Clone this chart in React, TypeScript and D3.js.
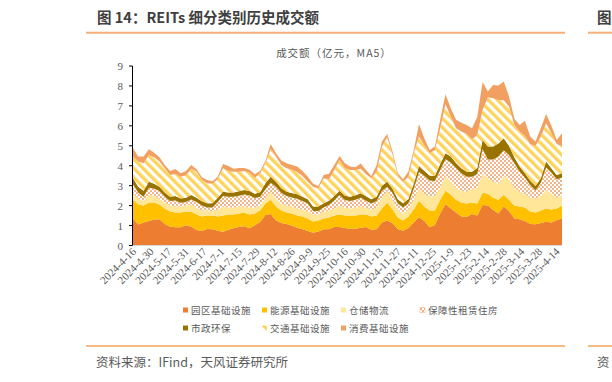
import React from 'react';
import * as d3 from 'd3';

// sample every 3 trading days, 82 samples (day index = k*3), trading days 0..243
const SAMPLE_STEP = 3;
const TOTAL_DAYS = 243;

const yuanqu = [1.36,1.05,1.15,1.23,1.30,1.31,1.08,0.94,0.91,0.91,
1.01,0.94,0.78,0.73,0.83,0.81,0.74,0.69,0.79,0.86,
0.93,0.96,0.86,1.01,1.18,1.53,1.58,1.25,1.13,1.08,
0.99,0.89,0.81,0.73,0.64,0.70,0.81,0.81,0.93,0.93,
0.88,0.84,0.84,0.89,0.93,0.79,0.81,1.15,1.25,1.11,
0.83,0.74,0.88,1.15,1.43,1.23,0.91,1.03,1.61,2.08,
1.86,1.66,1.45,1.43,1.58,1.51,2.03,2.00,1.78,1.61,
1.95,1.73,1.36,1.31,1.23,1.08,1.06,1.13,1.19,1.15,
1.28,1.36];

const nengyuan = [0.94,1.00,0.85,0.92,0.85,0.74,0.77,0.76,0.74,0.74,
0.69,0.76,0.77,0.72,0.67,0.69,0.71,0.81,0.76,0.69,
0.67,0.69,0.69,0.59,0.57,0.57,0.72,0.70,0.62,0.57,
0.61,0.61,0.64,0.62,0.56,0.55,0.54,0.59,0.57,0.62,
0.62,0.66,0.66,0.66,0.62,0.66,0.69,0.70,0.90,0.69,
0.57,0.51,0.57,0.65,0.82,0.72,0.84,0.72,0.69,0.67,
0.69,0.64,0.70,0.67,0.57,0.59,0.62,0.60,0.62,0.69,
0.60,0.57,0.64,0.64,0.67,0.62,0.59,0.62,0.66,0.65,
0.57,0.64];

const cangchu = [0.35,0.30,0.25,0.40,0.35,0.30,0.30,0.30,0.30,0.30,
0.30,0.35,0.35,0.30,0.25,0.22,0.35,0.45,0.35,0.35,
0.35,0.30,0.35,0.30,0.25,0.30,0.40,0.40,0.35,0.35,
0.35,0.35,0.35,0.35,0.35,0.30,0.35,0.35,0.35,0.45,
0.40,0.35,0.40,0.40,0.35,0.35,0.40,0.55,0.60,0.50,
0.40,0.35,0.35,0.50,0.65,0.65,0.70,0.75,0.60,0.75,
0.65,0.60,0.60,0.60,0.70,0.80,0.95,0.80,0.80,0.80,
0.95,1.00,0.90,0.75,0.70,0.70,0.70,0.75,0.95,0.80,
0.55,0.50];

const baozhang = [0.42,0.30,0.20,0.35,0.34,0.38,0.29,0.23,0.31,0.19,
0.18,0.26,0.28,0.25,0.15,0.18,0.38,0.53,0.54,0.54,
0.55,0.61,0.61,0.48,0.45,0.42,0.45,0.60,0.55,0.48,
0.46,0.50,0.43,0.40,0.18,0.18,0.20,0.28,0.41,0.53,
0.38,0.38,0.40,0.45,0.35,0.30,0.33,0.35,0.20,0.33,
0.30,0.30,0.31,0.54,0.79,0.90,0.81,0.73,0.89,0.82,
0.96,0.99,0.87,0.75,0.60,0.69,1.24,0.91,1.11,1.36,
1.28,1.24,1.22,1.01,0.80,0.63,0.41,0.65,1.11,1.05,
0.92,0.90];

const shizheng = [0.30,0.30,0.30,0.30,0.25,0.22,0.22,0.22,0.22,0.22,
0.22,0.22,0.22,0.22,0.22,0.22,0.22,0.22,0.22,0.22,
0.22,0.22,0.22,0.22,0.22,0.30,0.30,0.25,0.22,0.22,
0.22,0.22,0.22,0.22,0.22,0.22,0.22,0.22,0.22,0.22,
0.22,0.22,0.22,0.22,0.22,0.22,0.22,0.25,0.25,0.22,
0.22,0.22,0.22,0.25,0.30,0.25,0.25,0.25,0.30,0.30,
0.30,0.25,0.25,0.25,0.25,0.30,0.45,0.65,0.65,0.65,
0.60,0.45,0.30,0.25,0.22,0.22,0.22,0.22,0.30,0.22,
0.22,0.22];

const jiaotong = [1.09,1.26,1.37,1.34,1.33,1.26,1.21,1.09,1.11,1.09,
1.12,1.32,1.30,1.08,1.00,0.97,0.93,1.17,1.08,1.04,
0.98,0.96,0.92,0.80,0.95,1.00,1.39,1.26,1.17,1.17,
1.17,1.12,1.04,0.88,1.00,0.92,1.25,1.07,1.31,1.54,
1.37,1.34,1.27,1.23,1.10,1.05,1.25,1.96,2.23,1.70,
1.18,1.08,1.12,1.54,1.47,1.29,1.12,1.31,1.79,2.48,
2.00,1.74,1.84,1.89,1.63,1.65,1.51,2.47,2.42,2.19,
1.90,1.98,1.63,1.75,1.87,1.83,2.01,2.09,1.92,1.76,
1.55,1.37];

const xiaofei = [0.41,0.25,0.34,0.28,0.23,0.21,0.17,0.20,0.25,0.17,
0.22,0.19,0.12,0.12,0.17,0.13,0.12,0.22,0.25,0.15,
0.19,0.15,0.15,0.17,0.12,0.12,0.25,0.17,0.22,0.25,
0.24,0.27,0.25,0.25,0.14,0.11,0.17,0.28,0.25,0.20,
0.25,0.17,0.13,0.26,0.22,0.12,0.34,0.25,0.16,0.16,
0.12,0.12,0.26,0.15,0.63,0.34,0.16,0.17,0.42,0.48,
0.42,0.42,0.45,0.45,0.55,0.90,1.40,0.29,0.67,0.72,
0.94,0.50,0.31,0.33,0.76,0.38,0.22,0.42,0.46,0.37,
0.20,0.64];

const xTickLabels = ['2024-4-16','2024-4-30','2024-5-17','2024-5-31','2024-6-17','2024-7-1','2024-7-15','2024-7-29','2024-8-12','2024-8-26','2024-9-9','2024-9-25','2024-10-16','2024-10-30','2024-11-13','2024-11-27','2024-12-11','2024-12-25','2025-1-9','2025-1-23','2025-2-14','2025-2-28','2025-3-14','2025-3-28','2025-4-14'];
const X_TICK_STEP = 10; // trading days between labels
const yTicks = [0,1,2,3,4,5,6,7,8,9];

const seriesNames = ['园区基础设施','能源基础设施','仓储物流','保障性租赁住房','市政环保','交通基础设施','消费基础设施'];
const seriesValues = [yuanqu, nengyuan, cangchu, baozhang, shizheng, jiaotong, xiaofei];
const seriesFills = ['#ED7D31','#FFC000','#FFE699','url(#dots)','#997300','url(#stripes)','#F2A061'];
const legendRows = [[0,1,2,3],[4,5,6]];

const CJK = '"Noto Sans CJK SC", sans-serif';
const SERIF = '"Liberation Serif", "DejaVu Serif", serif';

export default function App() {
  const W = 612, H = 382;
  const x0 = 133, x1 = 562, yBase = 245.5, yTop = 66;
  const x = d3.scaleLinear().domain([0, TOTAL_DAYS]).range([x0, x1]);
  const y = d3.scaleLinear().domain([0, 9]).range([yBase, yTop]);

  const n = yuanqu.length;
  const rows = d3.range(n).map(i => {
    const r: any = { day: Math.min(i * SAMPLE_STEP, TOTAL_DAYS) };
    seriesNames.forEach((s, j) => { r[s] = seriesValues[j][i]; });
    return r;
  });
  const stack = d3.stack<any>().keys(seriesNames)(rows);
  const area = d3.area<any>()
    .x(d => x(d.data.day))
    .y0(d => y(d[0]))
    .y1(d => y(d[1]))
    .curve(d3.curveLinear);

  const legendX = [183, 262, 341, 420];
  const legendY = [310, 328];

  return (
    <svg width={W} height={H} style={{ position: 'absolute', left: 0, top: 0, background: '#fff' }}>
      <defs>
        <pattern id="dots" width="4" height="4" patternUnits="userSpaceOnUse">
          <rect width="4" height="4" fill="#fff" />
          <circle cx="1" cy="1" r="0.95" fill="#EE9458" />
          <circle cx="3" cy="3" r="0.95" fill="#EE9458" />
        </pattern>
        <pattern id="stripes" width="6.5" height="6.5" patternUnits="userSpaceOnUse" patternTransform="rotate(-45)">
          <rect width="6.5" height="6.5" fill="#fff" />
          <rect width="3.3" height="6.5" fill="#FFD35A" />
        </pattern>
      </defs>

      {/* header */}
      <text x={97} y={23} fontFamily={CJK} fontSize={14.5} fontWeight={700} fill="#404040">图 14：REITs 细分类别历史成交额</text>
      <line x1={86} x2={565} y1={32.7} y2={32.7} stroke="#F4AF7A" strokeWidth={2} />
      <text x={597} y={23} fontFamily={CJK} fontSize={14.5} fontWeight={700} fill="#404040">图</text>
      <line x1={588} x2={612} y1={32.7} y2={32.7} stroke="#F4AF7A" strokeWidth={2} />

      {/* chart title */}
      <text x={334} y={57} textAnchor="middle" fontFamily={CJK} fontSize={10.5} letterSpacing={1} fill="#595959">成交额（亿元，MA5）</text>

      {/* areas */}
      {stack.map((s, j) => (
        <path key={j} d={area(s) || ''} fill={seriesFills[j]} stroke="none" />
      ))}

      {/* x axis */}
      <line x1={x0 - 0.5} x2={x1} y1={yBase} y2={yBase} stroke="#D9D9D9" strokeWidth={1} />
      {xTickLabels.map((lab, i) => {
        const xx = x(i * X_TICK_STEP);
        return (
          <text key={lab} transform={`translate(${xx + 2},${yBase + 5}) rotate(-45)`} textAnchor="end" dominantBaseline="middle"
            fontFamily={SERIF} fontSize={11} fill="#595959">{lab}</text>
        );
      })}

      {/* y axis */}
      <line x1={132.5} x2={132.5} y1={yTop} y2={yBase} stroke="#000" strokeWidth={1} />
      {yTicks.map(t => (
        <g key={t}>
          <line x1={129} x2={132.5} y1={y(t)} y2={y(t)} stroke="#000" strokeWidth={1} />
          <text x={123} y={y(t)} textAnchor="end" dominantBaseline="central" fontFamily={SERIF} fontSize={11} fill="#595959">{t}</text>
        </g>
      ))}

      {/* legend */}
      {legendRows.map((row, ri) => row.map((si, ci) => (
        <g key={si}>
          <rect x={legendX[ci]} y={legendY[ri] - 2.5} width={5} height={5} fill={seriesFills[si]}
            stroke={si === 3 ? '#F4B183' : 'none'} strokeWidth={0.5} />
          <text x={legendX[ci] + 8} y={legendY[ri]} dominantBaseline="central" fontFamily={CJK} fontSize={9.5}
            letterSpacing={0.5} fill="#595959">{seriesNames[si]}</text>
        </g>
      )))}

      {/* footer */}
      <line x1={86} x2={565} y1={346} y2={346} stroke="#F4A460" strokeWidth={1.5} />
      <line x1={588} x2={612} y1={346} y2={346} stroke="#F4A460" strokeWidth={1.5} />
      <text x={96} y={367} fontFamily={CJK} fontSize={12.5} fill="#595959">资料来源：IFind，天风证券研究所</text>
      <text x={597} y={367} fontFamily={CJK} fontSize={12.5} fill="#595959">资</text>
    </svg>
  );
}
